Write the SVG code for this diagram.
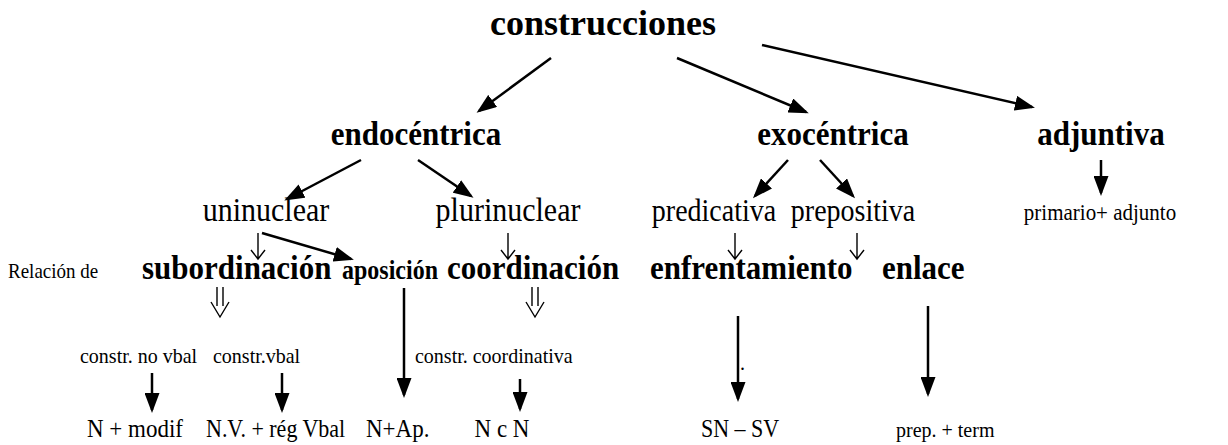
<svg xmlns="http://www.w3.org/2000/svg" width="1228" height="445" viewBox="0 0 1228 445" font-family="'Liberation Serif', 'Times New Roman', 'DejaVu Serif', serif">
<style>
text{fill:#000}
.b{font-weight:bold}
.c{stroke:#000;stroke-width:2.5;fill:none}
.t{stroke:#000;stroke-width:1.4;fill:none}
</style>
<defs>
<marker id="ah" markerUnits="userSpaceOnUse" viewBox="0 0 20 15" refX="17" refY="7.5" markerWidth="20" markerHeight="15" orient="auto">
<path d="M0,0 L20,7.5 L0,15 Z" fill="#000"/>
</marker>
</defs>
<rect width="1228" height="445" fill="#fff"/>
<g id="connectors">
<line class="c" x1="551" y1="58" x2="479" y2="111" marker-end="url(#ah)"/>
<line class="c" x1="677" y1="58" x2="806" y2="112" marker-end="url(#ah)"/>
<line class="c" x1="762" y1="45" x2="1032" y2="107" marker-end="url(#ah)"/>
<line class="c" x1="361" y1="160" x2="287" y2="199" marker-end="url(#ah)"/>
<line class="c" x1="418" y1="160" x2="471" y2="196" marker-end="url(#ah)"/>
<line class="c" x1="788" y1="160" x2="755" y2="196" marker-end="url(#ah)"/>
<line class="c" x1="820" y1="160" x2="853" y2="196" marker-end="url(#ah)"/>
<line class="c" x1="1101" y1="160" x2="1101" y2="193" marker-end="url(#ah)"/>
<line class="c" x1="262" y1="233" x2="351" y2="259" marker-end="url(#ah)"/>
<path class="t" d="M258,233 V259 M251,250 L258,259 L265,250"/>
<path class="t" d="M508,233 V259 M501,250 L508,259 L515,250"/>
<path class="t" d="M735,233 V259 M728,250 L735,259 L742,250"/>
<path class="t" d="M857,233 V259 M850,250 L857,259 L864,250"/>
<path class="t" d="M217,287 V306 M223,287 V306 M211,302 L220,317 L229,302"/>
<path class="t" d="M532,287 V306 M538,287 V306 M526,302 L535,317 L544,302"/>
<line class="c" x1="404" y1="288" x2="404" y2="395" marker-end="url(#ah)"/>
<line class="c" x1="738" y1="316" x2="738" y2="399" marker-end="url(#ah)"/>
<line class="c" x1="928" y1="306" x2="928" y2="394" marker-end="url(#ah)"/>
<line class="c" x1="152" y1="373" x2="152" y2="410" marker-end="url(#ah)"/>
<line class="c" x1="282" y1="373" x2="282" y2="410" marker-end="url(#ah)"/>
<line class="c" x1="520" y1="379" x2="520" y2="409" marker-end="url(#ah)"/>
</g>
<g id="construcciones"><text class="b" x="603" y="35" font-size="36" text-anchor="middle">construcciones</text></g>
<g id="endocentrica"><text class="b" font-size="31" text-anchor="middle" transform="translate(416,145) scale(1,1.08)">endocéntrica</text></g>
<g id="exocentrica"><text class="b" font-size="31" text-anchor="middle" transform="translate(833,145) scale(1,1.08)">exocéntrica</text></g>
<g id="adjuntiva"><text class="b" font-size="31" text-anchor="middle" transform="translate(1101,145) scale(1,1.08)">adjuntiva</text></g>
<g id="uninuclear"><text font-size="30" text-anchor="middle" transform="translate(266,221) scale(1,1.1)">uninuclear</text></g>
<g id="plurinuclear"><text font-size="30" text-anchor="middle" transform="translate(508,221) scale(1,1.1)">plurinuclear</text></g>
<g id="predicativa"><text font-size="28" text-anchor="middle" transform="translate(714,221) scale(1,1.1)">predicativa</text></g>
<g id="prepositiva"><text font-size="28" text-anchor="middle" transform="translate(853,221) scale(1,1.1)">prepositiva</text></g>
<g id="primario"><text font-size="21" text-anchor="middle" transform="translate(1100,220) scale(1,1.1)">primario+ adjunto</text></g>
<g id="relacion"><text font-size="19" transform="translate(8,278) scale(1,1.1)">Relación de</text></g>
<g id="subordinacion"><text class="b" font-size="31" transform="translate(142,279) scale(1,1.1)">subordinación</text></g>
<g id="aposicion"><text class="b" font-size="24" transform="translate(342,279) scale(1,1.1)">aposición</text></g>
<g id="coordinacion"><text class="b" font-size="31" transform="translate(447,279) scale(1,1.1)">coordinación</text></g>
<g id="enfrentamiento"><text class="b" font-size="31" transform="translate(650,279) scale(1,1.1)">enfrentamiento</text></g>
<g id="enlace"><text class="b" font-size="31" transform="translate(882,279) scale(1,1.1)">enlace</text></g>
<g id="dot"><text x="740" y="370" font-size="20">.</text></g>
<g id="constr-no-vbal"><text font-size="20" transform="translate(80,363) scale(1,1.1)">constr. no vbal</text></g>
<g id="constr-vbal"><text font-size="20" transform="translate(213,363) scale(1,1.1)">constr.vbal</text></g>
<g id="constr-coordinativa"><text font-size="20" transform="translate(415,363) scale(1,1.1)">constr. coordinativa</text></g>
<g id="n-modif"><text font-size="23" transform="translate(87,437) scale(1,1.1)">N + modif</text></g>
<g id="nv-reg"><text font-size="22" transform="translate(206,437) scale(1,1.1)">N.V. + rég Vbal</text></g>
<g id="n-ap"><text font-size="23" transform="translate(366,437) scale(1,1.1)">N+Ap.</text></g>
<g id="ncn"><text font-size="23" text-anchor="middle" transform="translate(502,437) scale(1,1.1)">N c N</text></g>
<g id="sn-sv"><text font-size="22" text-anchor="middle" transform="translate(740,437) scale(1,1.1)">SN – SV</text></g>
<g id="prep-term"><text font-size="20" transform="translate(896,437) scale(1,1.1)">prep. + term</text></g>
</svg>
